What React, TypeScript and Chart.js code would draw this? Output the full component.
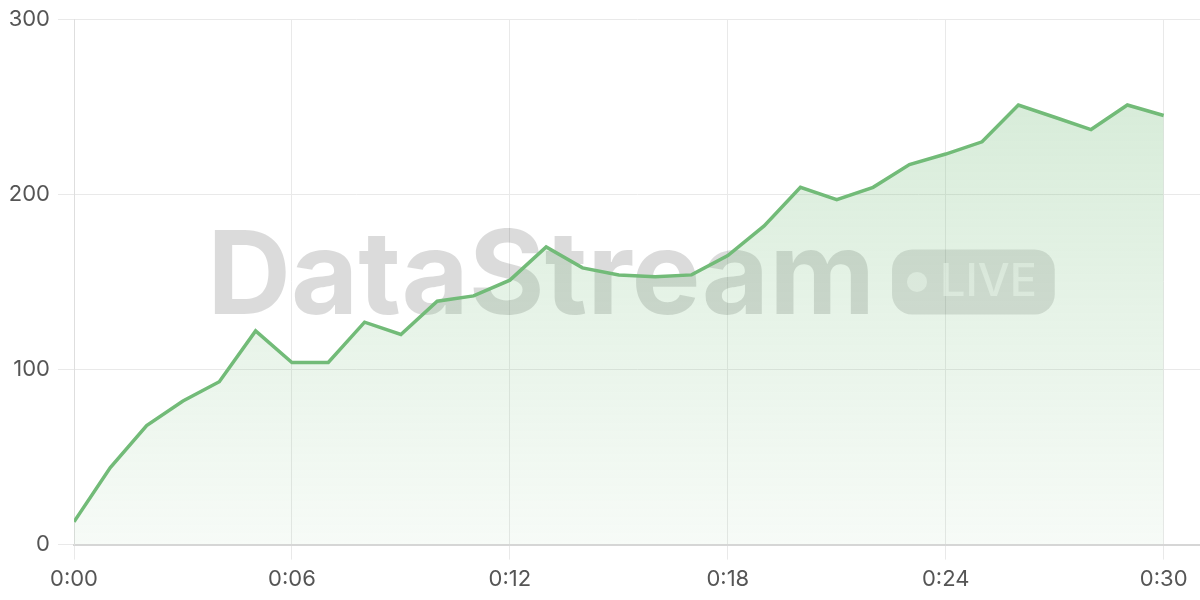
import React, { useEffect, useRef } from "react";
import { Chart, registerables } from "chart.js";

Chart.register(...registerables);

const minutes: number[] = Array.from({ length: 31 }, (_, i) => i);
const values: number[] = [
  13, 44, 68, 82, 93, 122, 104, 104, 127, 120,
  139, 142, 151, 170, 158, 154, 153, 154, 165, 182,
  204, 197, 204, 217, 223, 230, 251, 244, 237, 251,
  245,
];
const xTickValues: number[] = [0, 6, 12, 18, 24, 30];
const watermarkText = "DataStream";
const badgeText = "LIVE";

const FONT = "Inter, 'Noto Sans', sans-serif";
const GREEN = "rgb(114, 187, 120)";

const watermarkPlugin = {
  id: "watermark",
  beforeDatasetsDraw(chart: any) {
    const { ctx, chartArea } = chart;
    const cx = (chartArea.left + chartArea.right) / 2 - 6;
    const cy = (chartArea.top + chartArea.bottom) / 2;
    ctx.save();
    ctx.font = `bold 116px ${FONT}`;
    const tw = ctx.measureText(watermarkText).width;
    ctx.font = `500 45px ${FONT}`;
    const lw = ctx.measureText(badgeText).width;
    const gap = 17;
    const padL = 15;
    const dotR = 10;
    const dotGap = 13;
    const padR = 18;
    const badgeW = padL + dotR * 2 + dotGap + lw + padR;
    const badgeH = 65;
    const total = tw + gap + badgeW;
    const x0 = cx - total / 2;
    // main text
    ctx.font = `bold 116px ${FONT}`;
    ctx.fillStyle = "rgba(0,0,0,0.14)";
    ctx.textBaseline = "middle";
    ctx.textAlign = "left";
    ctx.fillText(watermarkText, x0, cy - 3);
    // badge
    const bx = x0 + tw + gap;
    const by = cy - badgeH / 2;
    const r = 20;
    ctx.beginPath();
    ctx.moveTo(bx + r, by);
    ctx.lineTo(bx + badgeW - r, by);
    ctx.arcTo(bx + badgeW, by, bx + badgeW, by + r, r);
    ctx.lineTo(bx + badgeW, by + badgeH - r);
    ctx.arcTo(bx + badgeW, by + badgeH, bx + badgeW - r, by + badgeH, r);
    ctx.lineTo(bx + r, by + badgeH);
    ctx.arcTo(bx, by + badgeH, bx, by + badgeH - r, r);
    ctx.lineTo(bx, by + r);
    ctx.arcTo(bx, by, bx + r, by, r);
    ctx.closePath();
    ctx.fillStyle = "rgba(0,0,0,0.12)";
    ctx.fill();
    ctx.fillStyle = "rgba(255,255,255,0.6)";
    ctx.beginPath();
    ctx.arc(bx + padL + dotR, cy, dotR, 0, Math.PI * 2);
    ctx.fill();
    ctx.font = `500 45px ${FONT}`;
    ctx.fillText(badgeText, bx + padL + dotR * 2 + dotGap, cy + 1);
    ctx.restore();
  },
};

export default function App() {
  const canvasRef = useRef<HTMLCanvasElement | null>(null);

  useEffect(() => {
    if (!canvasRef.current) return;
    const chart = new Chart(canvasRef.current, {
      type: "line",
      data: {
        datasets: [
          {
            data: minutes.map((m, i) => ({ x: m, y: values[i] })),
            borderColor: GREEN,
            borderWidth: 3.5,
            pointRadius: 0,
            tension: 0,
            fill: "origin",
            backgroundColor: (ctx: any) => {
              const area = ctx.chart.chartArea;
              if (!area) return "rgba(114,187,120,0.2)";
              const g = ctx.chart.ctx.createLinearGradient(0, area.top, 0, area.bottom);
              g.addColorStop(0, "rgba(114,187,120,0.32)");
              g.addColorStop(1, "rgba(114,187,120,0.06)");
              return g;
            },
          },
        ],
      },
      options: {
        animation: false,
        responsive: true,
        maintainAspectRatio: false,
        layout: { padding: { bottom: 0, right: 0 } },
        plugins: { legend: { display: false }, tooltip: { enabled: false } },
        scales: {
          x: {
            type: "linear",
            min: 0,
            max: 31,
            afterBuildTicks: (scale: any) => {
              scale.ticks = xTickValues.map((v) => ({ value: v }));
            },
            ticks: {
              callback: (v: any) => `0:${String(v).padStart(2, "0")}`,
              font: { family: FONT, size: 22 },
              color: "#555555",
              padding: 7,
              maxRotation: 0,
            },
            grid: { color: "#e9e9e9", lineWidth: 1, tickLength: 15 },
            border: { color: "#d6d6d6", width: 2 },
          },
          y: {
            min: 0,
            max: 300,
            ticks: {
              stepSize: 100,
              font: { family: FONT, size: 22 },
              color: "#555555",
              padding: 8,
            },
            afterFit: (scale: any) => {
              scale.width = 66;
            },
            grid: { color: "#e9e9e9", lineWidth: 1, tickLength: 16 },
            border: { color: "#dedede", width: 1 },
          },
        },
      },
      plugins: [watermarkPlugin],
    });
    return () => chart.destroy();
  }, []);

  return (
    <div style={{ position: "fixed", left: 8, top: -2, width: 1192, height: 602 }}>
      <canvas ref={canvasRef} />
    </div>
  );
}
